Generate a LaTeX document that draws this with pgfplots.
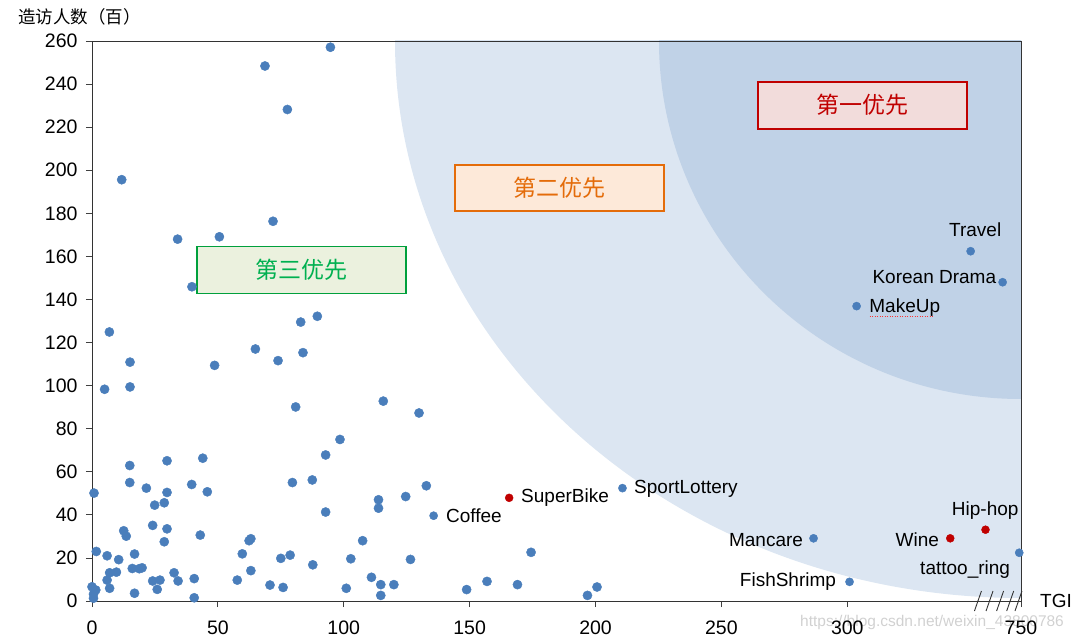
\documentclass[border=0pt]{standalone}
\usepackage{fontspec}
\setmainfont{Liberation Sans}
\newfontfamily\cjk{Noto Sans CJK SC}
\usepackage{pgfplots}
\usepackage{pgfplotstable}
\pgfplotsset{compat=1.18}
\definecolor{ptblue}{HTML}{4A7EBB}
\definecolor{ptred}{HTML}{C00000}
\definecolor{bglight}{HTML}{DCE6F2}
\definecolor{bgdark}{HTML}{C0D2E7}
\definecolor{boxredfill}{HTML}{F2DCDB}
\definecolor{boxorange}{HTML}{E46C0A}
\definecolor{boxorangefill}{HTML}{FDE9D9}
\definecolor{boxgreen}{HTML}{00A03C}
\definecolor{boxgreentext}{HTML}{00B050}
\definecolor{boxgreenfill}{HTML}{EBF1DE}

\pgfplotstableread{
x y
11.8 195.6
68.7 248.4
94.7 257.1
77.6 228.2
71.9 176.3
34.0 168.0
50.6 169.1
39.7 145.9
89.5 132.2
82.9 129.5
6.9 124.9
15.1 110.9
5.0 98.3
15.1 99.4
64.9 117.0
73.9 111.6
83.8 115.3
48.7 109.4
80.9 90.1
98.5 75.0
92.8 67.8
44.0 66.3
29.8 65.1
15.0 62.9
0.8 50.1
15.0 55.0
21.6 52.4
39.6 54.1
29.8 50.4
45.8 50.7
79.6 55.0
87.5 56.2
24.9 44.5
28.7 45.6
92.8 41.3
12.6 32.6
13.6 30.1
24.1 35.1
29.8 33.5
43.0 30.6
28.7 27.5
62.4 28.0
63.1 28.9
107.5 28.0
1.7 23.0
6.0 21.0
10.6 19.2
16.9 21.8
59.7 21.9
75.0 19.8
78.7 21.3
102.8 19.6
7.0 13.1
9.7 13.4
16.0 15.1
19.9 15.4
18.8 15.0
6.0 9.7
7.0 5.9
32.6 13.1
24.1 9.3
27.0 9.7
25.9 5.4
34.2 9.3
40.6 10.4
40.6 1.5
16.9 3.6
0.0 6.6
1.5 5.1
0.6 3.2
0.6 1.3
57.7 9.7
63.1 14.1
70.7 7.4
75.9 6.3
87.7 16.8
101.0 5.9
115.7 92.8
129.9 87.3
132.8 53.5
124.6 48.5
113.8 47.0
113.8 43.1
126.5 19.3
111.0 11.0
114.7 7.6
119.9 7.6
114.7 2.6
174.4 22.6
148.8 5.3
156.9 9.1
169.0 7.6
196.8 2.6
200.6 6.5
}\mainpts

\pgfplotstableread{
x y
135.7 39.6
210.7 52.4
303.7 136.9
286.6 29.1
300.9 8.9
368.3 22.4
349.0 162.4
361.7 148.0
}\labpts

\pgfplotstableread{
x y
165.7 47.9
340.9 29.1
354.9 33.1
}\redpts

\begin{document}
\begin{tikzpicture}
\useasboundingbox (-92pt,-40pt) rectangle (988pt,601pt);
\begin{axis}[
  at={(0,0)}, anchor=south west,
  scale only axis, width=929pt, height=560pt,
  xmin=0, xmax=369, ymin=0, ymax=260,
  ytick={0,20,...,260},
  xtick={0,50,100,150,200,250,300,369},
  xticklabels={0,50,100,150,200,250,300,750},
  tick align=outside, major tick length=6pt,
  xtick pos=bottom, ytick pos=left,
  tick style={black!75, line width=0.8pt},
  axis line style={black!80, line width=0.9pt},
  axis on top, clip=false,
  ticklabel style={font=\fontsize{19.5}{21}\selectfont, text=black},
  /pgf/number format/assume math mode=true,
  xticklabel style={yshift=-10pt},
  yticklabel style={xshift=-5pt},
]
\begin{scope}
\clip (rel axis cs:0,0) rectangle (rel axis cs:1,1);
\fill[bglight] (rel axis cs:1,1) ellipse [x radius=626pt, y radius=557pt];
\fill[bgdark] (rel axis cs:1,1) ellipse [x radius=362pt, y radius=358pt];
\end{scope}

\addplot[only marks, mark=*, mark size=4.6pt, mark options={draw=ptblue, fill=ptblue}] table[x=x,y=y] {\mainpts};
\addplot[only marks, mark=*, mark size=4.1pt, mark options={draw=ptblue, fill=ptblue}] table[x=x,y=y] {\labpts};
\addplot[only marks, mark=*, mark size=4.0pt, mark options={draw=ptred, fill=ptred}] table[x=x,y=y] {\redpts};

% priority boxes
\draw[line width=1.8pt, draw=ptred, fill=boxredfill] (axis cs:264.5,241.1) rectangle (axis cs:347.4,219.3);
\node[text=ptred, font=\cjk\fontsize{23}{26}\selectfont] at (axis cs:306,230.2) {第一优先};
\draw[line width=1.8pt, draw=boxorange, fill=boxorangefill] (axis cs:144.3,202.6) rectangle (axis cs:227.1,180.9);
\node[text=boxorange, font=\cjk\fontsize{23}{26}\selectfont] at (axis cs:185.7,191.7) {第二优先};
\draw[line width=1.8pt, draw=boxgreen, fill=boxgreenfill] (axis cs:41.7,164.6) rectangle (axis cs:124.8,142.8);
\node[text=boxgreentext, font=\cjk\fontsize{23}{26}\selectfont] at (axis cs:83.3,153.7) {第三优先};

% point labels
\node[font=\fontsize{19}{21}\selectfont, inner sep=0pt, anchor=west] at (axis cs:140.6,39.4) {Coffee};
\node[font=\fontsize{19}{21}\selectfont, inner sep=0pt, anchor=west] at (axis cs:170.4,47.8) {SuperBike};
\node[font=\fontsize{19}{21}\selectfont, inner sep=0pt, anchor=west] at (axis cs:215.3,51.9) {SportLottery};
\node[font=\fontsize{19}{21}\selectfont, inner sep=0pt, anchor=east] at (axis cs:282.5,28.3) {Mancare};
\node[font=\fontsize{19}{21}\selectfont, inner sep=0pt, anchor=east] at (axis cs:295.6,8.8) {FishShrimp};
\node[font=\fontsize{19}{21}\selectfont, inner sep=0pt, anchor=east] at (axis cs:336.5,28.3) {Wine};
\node[font=\fontsize{19}{21}\selectfont, inner sep=0pt] at (axis cs:354.8,42.2) {Hip-hop};
\node[font=\fontsize{19}{21}\selectfont, inner sep=0pt] at (axis cs:346.8,14.8) {tattoo\_ring};
\node[font=\fontsize{19}{21}\selectfont, inner sep=0pt] at (axis cs:350.8,172.3) {Travel};
\node[font=\fontsize{19}{21}\selectfont, inner sep=0pt, anchor=east] at (axis cs:359.2,150.2) {Korean Drama};
\node[font=\fontsize{19}{21}\selectfont, inner sep=0pt, anchor=west] at (axis cs:308.7,136.0) {MakeUp};
\draw[red!80, line width=0.5pt, dotted] (axis cs:308.9,132.3) -- (axis cs:334.5,132.3);

% axis break marks
\draw[black!80, line width=0.9pt] ([shift={(-3.5pt,-10pt)}]axis cs:351.9,0) -- ++(7pt,20pt);
\draw[black!80, line width=0.9pt] ([shift={(-3.5pt,-10pt)}]axis cs:356.5,0) -- ++(7pt,20pt);
\draw[black!80, line width=0.9pt] ([shift={(-3.5pt,-10pt)}]axis cs:360.7,0) -- ++(7pt,20pt);
\draw[black!80, line width=0.9pt] ([shift={(-3.5pt,-10pt)}]axis cs:364.7,0) -- ++(7pt,20pt);
\draw[black!80, line width=0.9pt] ([shift={(-3.5pt,-10pt)}]axis cs:368.0,0) -- ++(7pt,20pt);
% axis titles
\node[anchor=west, font=\fontsize{19}{21}\selectfont, inner sep=0pt] at ([xshift=19pt]rel axis cs:1,0) {TGI};
\node[anchor=west, font=\cjk\fontsize{17.5}{20}\selectfont, inner sep=0pt] at ([xshift=-74pt, yshift=24pt]rel axis cs:0,1) {造访人数（百）};
\node[anchor=west, font=\fontsize{15.5}{18}\selectfont, inner sep=0pt, text=black!18] at ([xshift=-221pt, yshift=-21pt]rel axis cs:1,0) {https://blog.csdn.net/weixin\_43800786};
\end{axis}
\end{tikzpicture}
\end{document}
